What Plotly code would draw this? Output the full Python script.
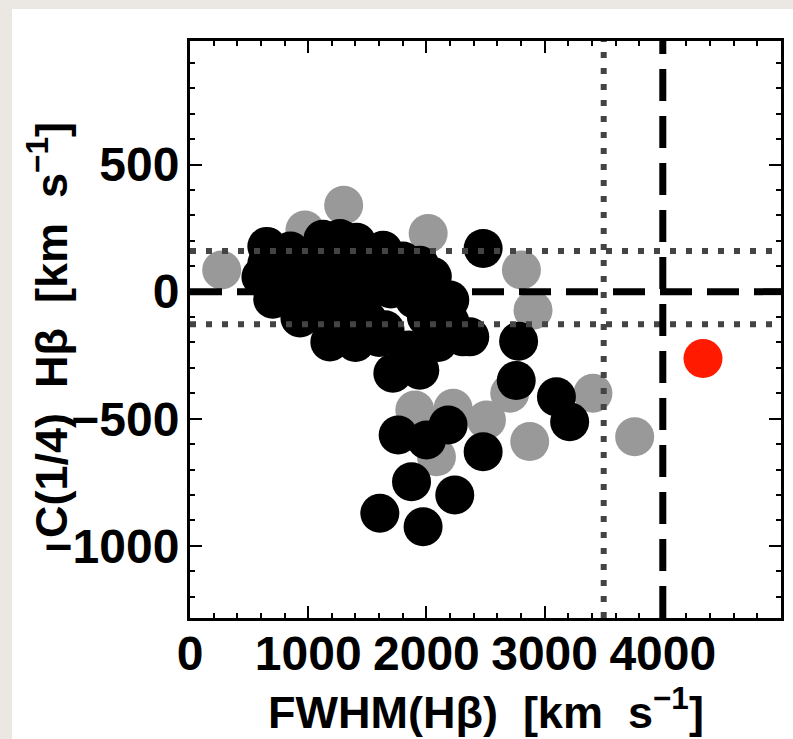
import plotly.graph_objects as go

# ---- data ----
black_fwhm = [600, 650, 700, 850, 650, 1124, 1268, 1410, 1634, 1800,
              850, 1050, 1250, 1400, 1600, 1800, 1944, 2050,
              750, 900, 1100, 1300, 1500, 1700, 1900, 2100, 2198,
              930, 1100, 1300, 1500, 1650, 2000, 2200, 2310, 2367,
              1183, 1400, 1600, 1850, 2100,
              1716, 1944,
              2480, 2780, 2760, 3100, 3212,
              1761, 2001, 2184, 2480, 1874, 2240, 1606, 1972]
black_c14 = [58, 110, -30, 160, 178, 206, 209, 194, 163, 120,
             100, 90, 120, 90, 90, 60, 104, 60,
             10, 10, 0, 20, 0, 10, -30, -20, -33,
             -104, -90, -110, -110, -150, -100, -120, -178, -178,
             -198, -200, -180, -230, -200,
             -321, -309,
             170, -195, -350, -414, -512,
             -564, -584, -525, -630, -748, -800, -872, -925]

gray_fwhm = [268, 972, 1300, 2015, 2804, 2902, 2705, 1902, 2226, 2508, 2874, 3409, 3762, 2085]
gray_c14 = [85, 242, 340, 229, 85, -73, -400, -466, -459, -505, -590, -400, -571, -650]

red_fwhm = [4340]
red_c14 = [-263]

dashed_h = [0]          # km/s, thick dashed horizontal
dashed_v = [4000]       # km/s, thick dashed vertical
dotted_h = [160, -128]  # km/s, dotted horizontals
dotted_v = [3500]       # km/s, dotted vertical

x_range = [0, 5000]
y_range = [-1284, 986]
x_ticks = [0, 1000, 2000, 3000, 4000]
x_ticktext = ["0", "1000", "2000", "3000", "4000"]
y_ticks = [500, 0, -500, -1000]
y_ticktext = ["500", "0", "\u2212500", "\u22121000"]

W, H = 793, 739
ML, MR, MT, MB = 190, 12, 41, 121
PW, PH = W - ML - MR, H - MT - MB

FONT = "Liberation Sans"
MS = 39
TICKFONT = 48
TITLEFONT = 45

fig = go.Figure()
fig.add_trace(go.Scatter(x=gray_fwhm, y=gray_c14, mode="markers",
                         marker=dict(size=MS, color="#999999", line=dict(width=0))))
fig.add_trace(go.Scatter(x=black_fwhm, y=black_c14, mode="markers",
                         marker=dict(size=MS, color="#000000", line=dict(width=0))))
fig.add_trace(go.Scatter(x=red_fwhm, y=red_c14, mode="markers",
                         marker=dict(size=MS, color="#ff1a00", line=dict(width=0))))

for yv in dotted_h:
    fig.add_trace(go.Scatter(x=x_range, y=[yv, yv], mode="lines",
                             line=dict(color="#444444", width=6, dash="6px,10px")))
for xv in dotted_v:
    fig.add_trace(go.Scatter(x=[xv, xv], y=y_range, mode="lines",
                             line=dict(color="#444444", width=6, dash="6px,10px")))
for yv in dashed_h:
    fig.add_trace(go.Scatter(x=x_range, y=[yv, yv], mode="lines",
                             line=dict(color="#000000", width=7, dash="32px,15px")))
for xv in dashed_v:
    fig.add_trace(go.Scatter(x=[xv, xv], y=y_range, mode="lines",
                             line=dict(color="#000000", width=7, dash="32px,15px")))

axis_common = dict(showgrid=False, zeroline=False, showline=True, linecolor="black",
                   linewidth=3, mirror="allticks", ticks="inside", ticklen=12,
                   tickwidth=2, tickcolor="black",
                   tickfont=dict(family=FONT, size=TICKFONT, color="black", weight="bold"))

fig.update_xaxes(range=x_range, tickmode="array", tickvals=x_ticks, ticktext=x_ticktext,
                 minor=dict(dtick=200, tick0=0, ticks="inside", ticklen=5, tickwidth=2,
                            tickcolor="black"),
                 ticklabelstandoff=-9, **axis_common)
fig.update_yaxes(range=y_range, tickmode="array", tickvals=y_ticks, ticktext=y_ticktext,
                 minor=dict(dtick=100, tick0=0, ticks="inside", ticklen=5, tickwidth=2,
                            tickcolor="black"),
                 ticklabelstandoff=-2, **axis_common)

# white page panel over the light grey surround
def px2paper_x(p):
    return (p - ML) / PW

def py2paper_y(p):
    return (H - MB - p) / PH

fig.add_shape(type="rect", xref="paper", yref="paper",
              x0=px2paper_x(12), x1=px2paper_x(W + 5), y0=py2paper_y(H + 5), y1=py2paper_y(9),
              fillcolor="white", line=dict(width=0), layer="below")

fig.add_annotation(text="FWHM(H\u03b2)  [km  s<sup>\u22121</sup>]", xref="paper", yref="paper",
                   x=0.5, y=py2paper_y(709), xanchor="center", yanchor="middle",
                   showarrow=False,
                   font=dict(family=FONT, size=TITLEFONT, color="black", weight="bold"))
fig.add_annotation(text="C(1/4)  H\u03b2  [km  s<sup>\u22121</sup>]", xref="paper", yref="paper",
                   x=px2paper_x(48), y=py2paper_y(330), xanchor="center", yanchor="middle",
                   textangle=-90, showarrow=False,
                   font=dict(family=FONT, size=TITLEFONT, color="black", weight="bold"))

fig.update_layout(width=W, height=H, margin=dict(l=ML, r=MR, t=MT, b=MB, autoexpand=False),
                  paper_bgcolor="#ebe8e3", plot_bgcolor="white", showlegend=False)

fig.write_html("out.html", config={"displayModeBar": False},
               post_script="document.body.style.margin='0px';"
                           "document.body.style.background='#ebe8e3';")
